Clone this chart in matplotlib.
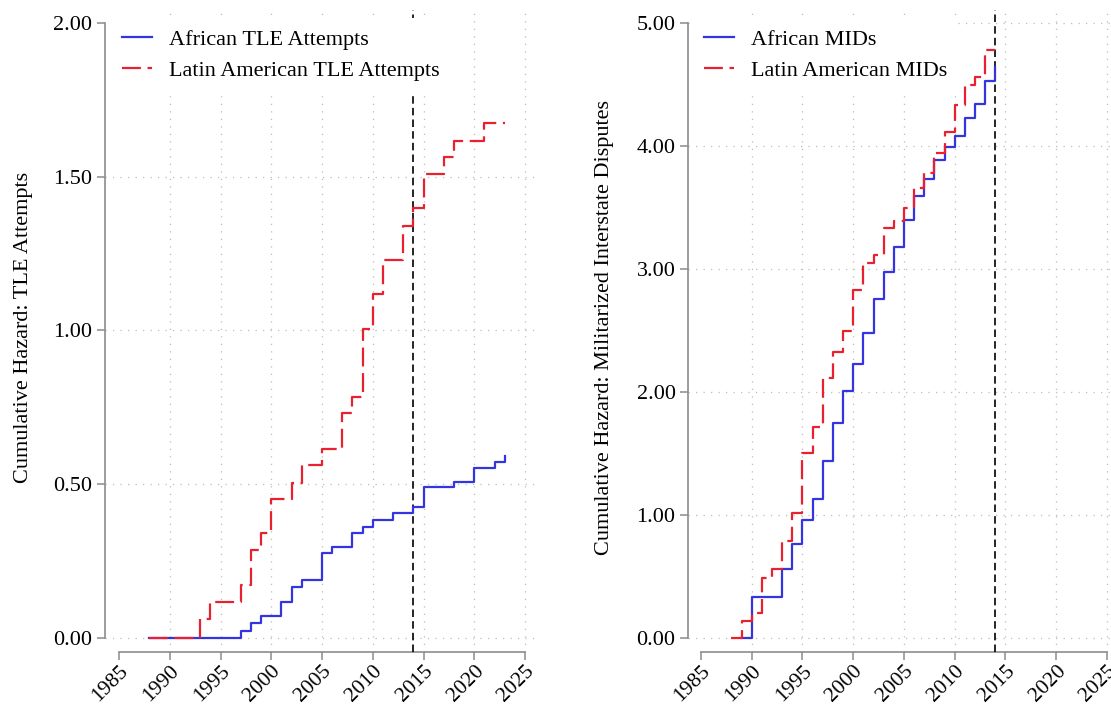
import matplotlib
matplotlib.use("Agg")
import matplotlib.pyplot as plt

# ----- datos (escalones, valor desde ese año) -----

tle_afr_years = [1988, 1997, 1998, 1999, 2001, 2002, 2003, 2005, 2006, 2008,
                 2009, 2010, 2012, 2014, 2015, 2018, 2020, 2022, 2023]
tle_afr_vals = [0.0, 0.024, 0.048, 0.072, 0.117, 0.165, 0.189, 0.277, 0.297, 0.340,
                0.362, 0.384, 0.405, 0.427, 0.490, 0.508, 0.552, 0.573, 0.592]

tle_lat_years = [1988, 1993, 1994, 1997, 1998, 1999, 2000, 2002, 2003, 2005, 2007,
                 2008, 2009, 2010, 2011, 2013, 2014, 2015, 2017, 2018, 2021, 2023]
tle_lat_vals = [0.0, 0.061, 0.118, 0.172, 0.286, 0.340, 0.451, 0.505, 0.562, 0.616, 0.731,
                0.785, 1.004, 1.118, 1.229, 1.340, 1.397, 1.509, 1.563, 1.617, 1.674, 1.674]

mid_afr_years = [1989, 1990, 1993, 1994, 1995, 1996, 1997, 1998, 1999, 2000, 2001, 2002,
                 2003, 2004, 2005, 2006, 2007, 2008, 2009, 2010, 2011, 2012, 2013, 2014]
mid_afr_vals = [0.0, 0.331, 0.558, 0.764, 0.959, 1.130, 1.439, 1.751, 2.008, 2.225, 2.477, 2.754,
                2.978, 3.18, 3.40, 3.59, 3.73, 3.89, 3.99, 4.08, 4.23, 4.34, 4.53, 4.64]

mid_lat_years = [1988, 1989, 1990, 1991, 1992, 1993, 1994, 1995, 1996, 1997, 1998, 1999, 2000,
                 2001, 2002, 2003, 2004, 2005, 2006, 2007, 2008, 2009, 2010, 2011, 2012, 2013, 2014]
mid_lat_vals = [0.0, 0.141, 0.206, 0.49, 0.558, 0.791, 1.02, 1.50, 1.718, 2.111, 2.328, 2.50, 2.83,
                3.046, 3.11, 3.33, 3.39, 3.50, 3.66, 3.78, 3.94, 4.11, 4.33, 4.50, 4.56, 4.78, 4.78]

x_ticks = [1985, 1990, 1995, 2000, 2005, 2010, 2015, 2020, 2025]
cutoff_year = 2014

BLUE = "#3434e0"
RED = "#e8202f"
GRAY = "#8c8c8c"

plt.rcParams["font.family"] = ["Liberation Serif", "DejaVu Serif"]
plt.rcParams["font.size"] = 16

fig = plt.figure(figsize=(11.11, 7.06), dpi=100)
W, H = 1111, 706

def make_axes(left_px, right_px, top_px, bottom_px):
    return fig.add_axes([left_px / W, (H - bottom_px) / H,
                         (right_px - left_px) / W, (bottom_px - top_px) / H])

def style(ax, xlim, ylim, yticks, ylabel, label_x, hide_top_grid):
    ax.set_xlim(*xlim)
    ax.set_ylim(*ylim)
    ax.set_xticks(x_ticks)
    ax.set_yticks(yticks)
    ax.set_yticklabels(["%.2f" % v for v in yticks])
    ax.set_xticklabels([str(v) for v in x_ticks], rotation=45, ha="right",
                       va="top", rotation_mode="anchor", fontsize=15.5)
    for s in ["top", "right"]:
        ax.spines[s].set_visible(False)
    for s in ["left", "bottom"]:
        ax.spines[s].set_color(GRAY)
        ax.spines[s].set_linewidth(1.2)
    ax.spines["left"].set_bounds(yticks[0], yticks[-1])
    ax.spines["bottom"].set_bounds(x_ticks[0], x_ticks[-1])
    ax.tick_params(direction="out", length=6, width=1.1, color=GRAY, pad=3)
    ax.tick_params(axis="x", pad=1)
    ax.grid(True, color="#bdbdbd", linestyle=(0, (1, 5)), linewidth=0.9)
    ax.set_axisbelow(True)
    ax.get_xgridlines()[0].set_visible(False)
    if hide_top_grid:
        ax.get_ygridlines()[-1].set_visible(False)
    ax.set_ylabel(ylabel)
    ax.yaxis.set_label_coords(label_x, 0.505)
    ax.axvline(cutoff_year, color="black", linewidth=1.2, dashes=(4.5, 2.5), zorder=3)

def add_legend(ax, x_anchor):
    leg = ax.legend(loc="upper left", bbox_to_anchor=(x_anchor, 0.987),
                    frameon=True, fancybox=False, edgecolor="none", facecolor="white",
                    framealpha=1, borderpad=0.5, borderaxespad=0, handlelength=1.35,
                    handletextpad=0.75, labelspacing=0.48)
    leg.set_zorder(10)

# ----- panel izquierdo: TLE -----
ax1 = make_axes(105, 537, 10, 652)
ax1.plot(tle_afr_years, tle_afr_vals, drawstyle="steps-post", color=BLUE,
         linewidth=1.6, label="African TLE Attempts", zorder=4)
ax1.plot(tle_lat_years, tle_lat_vals, drawstyle="steps-post", color=RED,
         linewidth=1.6, dashes=(8.5, 3), label="Latin American TLE Attempts", zorder=4)
style(ax1, (1983.62, 2026.18), (-0.0455, 2.042), [0.0, 0.5, 1.0, 1.5, 2.0],
      "Cumulative Hazard: TLE Attempts", -0.167, True)
add_legend(ax1, 0.014)

# ----- panel derecho: MIDs -----
ax2 = make_axes(688, 1111, 10, 652)
ax2.plot(mid_afr_years, mid_afr_vals, drawstyle="steps-post", color=BLUE,
         linewidth=1.6, label="African MIDs", zorder=4)
ax2.plot(mid_lat_years, mid_lat_vals, drawstyle="steps-post", color=RED,
         linewidth=1.6, dashes=(8.5, 3), label="Latin American MIDs", zorder=4)
style(ax2, (1983.72, 2025.4), (-0.114, 5.106), [0.0, 1.0, 2.0, 3.0, 4.0, 5.0],
      "Cumulative Hazard: Militarized Interstate Disputes", -0.174, False)
add_legend(ax2, 0.012)

fig.savefig("out.png", dpi=100)
